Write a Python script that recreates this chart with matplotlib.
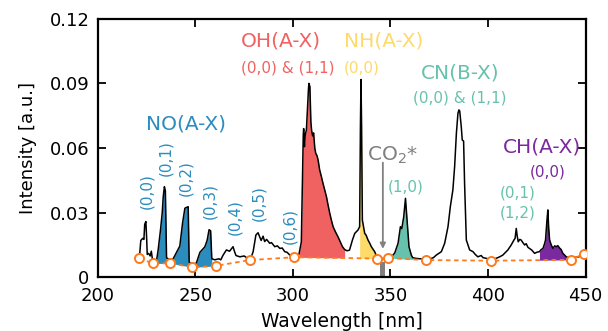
import numpy as np
import matplotlib
matplotlib.use("Agg")
import matplotlib.pyplot as plt

plt.rcParams['font.family'] = ['DejaVu Sans']
plt.rcParams['mathtext.default'] = 'regular'

# emission spectrum (wavelength in nm, intensity in a.u.)
wavelength = [221.3, 222.0, 223.0, 223.6, 224.0, 224.6, 225.0, 225.3, 226.0, 226.8,
              227.4, 228.0, 229.0, 230.1, 230.9, 232.1, 233.0, 233.5, 234.1, 234.6,
              235.2, 236.0, 237.5, 238.6, 240.3, 242.0, 243.4, 244.6, 246.3, 246.8,
              248.0, 249.5, 250.5, 252.3, 254.8, 256.0, 257.0, 257.8, 258.4, 260.0,
              262.0, 263.0, 264.2, 265.9, 267.5, 269.3, 270.0, 270.8, 272.8, 275.0,
              277.0, 278.5, 279.6, 281.0, 282.1, 283.0, 283.7, 284.7, 285.5, 286.5,
              288.1, 289.0, 290.7, 292.0, 293.3, 294.5, 295.8, 297.0, 298.4, 300.1,
              302.0, 303.1, 304.3, 304.8, 305.3, 305.5, 305.9, 306.3, 306.9, 307.5,
              308.0, 308.2, 308.7, 309.2, 309.6, 310.1, 310.6, 311.2, 311.7, 312.3,
              312.9, 313.7, 314.5, 315.4, 316.3, 317.2, 318.0, 318.9, 319.7, 320.6,
              321.8, 323.1, 324.2, 325.4, 326.5, 327.7, 329.0, 330.5, 331.7, 333.4,
              334.2, 334.6, 334.9, 335.2, 335.6, 336.8, 337.5, 338.5, 339.5, 340.2,
              341.9, 343.0, 344.5, 346.0, 347.5, 349.0, 350.5, 352.2, 353.9, 355.1,
              355.8, 356.8, 357.7, 358.4, 359.5, 360.7, 361.4, 363.0, 365.0, 368.0,
              370.1, 372.0, 373.5, 376.1, 377.8, 379.5, 380.7, 382.0, 382.9, 383.8,
              384.6, 385.1, 385.5, 386.3, 386.8, 387.5, 388.0, 388.9, 390.6, 392.3,
              393.5, 394.8, 396.5, 397.5, 399.1, 401.0, 402.5, 404.2, 406.0, 407.6,
              409.0, 410.2, 411.9, 413.3, 413.9, 414.5, 415.0, 415.5, 416.3, 417.0,
              417.9, 418.8, 419.6, 420.5, 421.3, 422.5, 423.9, 425.0, 426.4, 427.3,
              428.2, 429.0, 429.5, 430.2, 430.7, 431.1, 431.6, 432.4, 433.3, 434.2,
              435.0, 435.8, 436.7, 437.5, 438.4, 439.3, 440.1, 441.5, 443.5, 445.0,
              446.5, 448.0, 449.1]
intensity = [0.0090, 0.0170, 0.0180, 0.0175, 0.0245, 0.0258, 0.0180, 0.0105, 0.0110, 0.0098,
             0.0120, 0.0080, 0.0075, 0.0078, 0.0126, 0.0219, 0.0300, 0.0373, 0.0420, 0.0400,
             0.0090, 0.0085, 0.0080, 0.0085, 0.0115, 0.0144, 0.0250, 0.0320, 0.0327, 0.0070,
             0.0060, 0.0062, 0.0065, 0.0115, 0.0140, 0.0170, 0.0220, 0.0215, 0.0085, 0.0080,
             0.0085, 0.0080, 0.0102, 0.0126, 0.0120, 0.0141, 0.0120, 0.0100, 0.0094, 0.0098,
             0.0085, 0.0090, 0.0118, 0.0195, 0.0206, 0.0185, 0.0170, 0.0190, 0.0165, 0.0175,
             0.0157, 0.0160, 0.0141, 0.0145, 0.0133, 0.0135, 0.0118, 0.0115, 0.0102, 0.0096,
             0.0100, 0.0106, 0.0163, 0.0404, 0.0660, 0.0690, 0.0606, 0.0660, 0.0684, 0.0790,
             0.0880, 0.0900, 0.0885, 0.0720, 0.0680, 0.0656, 0.0670, 0.0600, 0.0575, 0.0565,
             0.0544, 0.0498, 0.0470, 0.0436, 0.0405, 0.0373, 0.0335, 0.0296, 0.0265, 0.0234,
             0.0210, 0.0187, 0.0165, 0.0141, 0.0128, 0.0122, 0.0125, 0.0172, 0.0203, 0.0219,
             0.0234, 0.0700, 0.0918, 0.0700, 0.0265, 0.0203, 0.0195, 0.0172, 0.0155, 0.0141,
             0.0118, 0.0095, 0.0088, 0.0085, 0.0088, 0.0090, 0.0094, 0.0112, 0.0157, 0.0234,
             0.0225, 0.0280, 0.0366, 0.0280, 0.0141, 0.0102, 0.0090, 0.0087, 0.0085, 0.0083,
             0.0084, 0.0090, 0.0102, 0.0118, 0.0157, 0.0234, 0.0327, 0.0405, 0.0513, 0.0668,
             0.0761, 0.0777, 0.0772, 0.0699, 0.0637, 0.0632, 0.0436, 0.0172, 0.0126, 0.0118,
             0.0105, 0.0094, 0.0100, 0.0090, 0.0087, 0.0082, 0.0084, 0.0087, 0.0094, 0.0102,
             0.0115, 0.0126, 0.0149, 0.0172, 0.0180, 0.0226, 0.0190, 0.0164, 0.0175, 0.0172,
             0.0160, 0.0149, 0.0155, 0.0138, 0.0133, 0.0125, 0.0110, 0.0115, 0.0118, 0.0128,
             0.0133, 0.0155, 0.0172, 0.0260, 0.0312, 0.0230, 0.0172, 0.0150, 0.0133, 0.0145,
             0.0141, 0.0146, 0.0135, 0.0128, 0.0110, 0.0102, 0.0094, 0.0090, 0.0087, 0.0092,
             0.0094, 0.0100, 0.0108]

# baseline anchor points (orange circles)
base_wl = [221.2, 228.3, 237.2, 248.5, 260.5, 277.9, 300.8, 343.0, 348.7, 368.0, 401.5, 442.5, 449.1]
base_I = [0.0087, 0.0063, 0.0064, 0.0045, 0.0052, 0.0079, 0.0092, 0.0086, 0.0088, 0.0079, 0.0076, 0.0080, 0.0108]

# shaded bands: (start nm, end nm, colour)
NO_blue = '#2B8CBE'
OH_red = '#F06262'
NH_yellow = '#FDDA6A'
CN_teal = '#66C2AC'
CH_purple = '#7A2A9E'
bands = [(230.1, 235.2, NO_blue), (238.6, 246.8, NO_blue), (250.5, 258.4, NO_blue),
         (303.1, 326.5, OH_red), (333.9, 341.9, NH_yellow),
         (349.6, 361.4, CN_teal), (426.4, 440.4, CH_purple)]

# CO2* marker bar
co2_wl = 346.0
co2_height = 0.0072

wl = np.array(wavelength)
inten = np.array(intensity)
base_on_wl = np.interp(wl, base_wl, base_I)

fig = plt.figure(figsize=(6.08, 3.31), dpi=100)
ax = fig.add_axes([0.161, 0.163, 0.802, 0.780])

for lo, hi, col in bands:
    mask = (wl >= lo) & (wl <= hi)
    ax.fill_between(wl[mask], base_on_wl[mask], inten[mask], color=col, lw=0, zorder=1)

ax.bar([co2_wl], [co2_height], width=2.8, color='#808080', zorder=1)
ax.plot(wl, inten, color='black', lw=1.1, zorder=3)
ax.plot(base_wl, base_I, color='#FF7A1A', ls=(0, (2.5, 2)), lw=1.3, zorder=4,
        marker='o', ms=6.5, mfc='white', mec='#FF7A1A', mew=1.4)

ax.annotate('', xy=(346.1, 0.0118), xytext=(346.1, 0.0545),
            arrowprops=dict(arrowstyle='-|>', color='#808080', lw=1.3, mutation_scale=8))
ax.text(337.8, 0.0567, 'CO$_2$*', color='#808080', fontsize=14.5, va='center', ha='left')

# labels
big = 14.5
small = 11
ax.text(245.1, 0.0713, 'NO(A-X)', color=NO_blue, fontsize=big, ha='center', va='center')
no_labels = [(225.1, 0.040, '(0,0)'), (234.7, 0.0553, '(0,1)'), (245.3, 0.046, '(0,2)'),
             (257.4, 0.0353, '(0,3)'), (270.2, 0.0279, '(0,4)'), (282.6, 0.0344, '(0,5)'),
             (298.4, 0.0237, '(0,6)')]
for x, y, s in no_labels:
    ax.text(x, y, s, color=NO_blue, fontsize=small, rotation=90, ha='center', va='center')

ax.text(294.1, 0.1096, 'OH(A-X)', color=OH_red, fontsize=big, ha='center', va='center')
ax.text(297.3, 0.0972, '(0,0) & (1,1)', color=OH_red, fontsize=small, ha='center', va='center')
ax.text(346.5, 0.1096, 'NH(A-X)', color=NH_yellow, fontsize=big, ha='center', va='center')
ax.text(335.4, 0.0972, '(0,0)', color=NH_yellow, fontsize=small, ha='center', va='center')
ax.text(385.5, 0.0949, 'CN(B-X)', color=CN_teal, fontsize=big, ha='center', va='center')
ax.text(385.5, 0.0832, '(0,0) & (1,1)', color=CN_teal, fontsize=small, ha='center', va='center')
ax.text(357.8, 0.042, '(1,0)', color=CN_teal, fontsize=small, ha='center', va='center')
ax.text(415.3, 0.0389, '(0,1)', color=CN_teal, fontsize=small, ha='center', va='center')
ax.text(415.3, 0.0296, '(1,2)', color=CN_teal, fontsize=small, ha='center', va='center')
ax.text(427.8, 0.0606, 'CH(A-X)', color=CH_purple, fontsize=big, ha='center', va='center')
ax.text(430.7, 0.049, '(0,0)', color=CH_purple, fontsize=small, ha='center', va='center')

ax.set_xlim(200, 450)
ax.set_ylim(0, 0.12)
ax.set_xticks([200, 250, 300, 350, 400, 450])
ax.set_yticks([0, 0.03, 0.06, 0.09, 0.12])
ax.set_yticklabels(['0', '0.03', '0.06', '0.09', '0.12'])
ax.tick_params(direction='in', top=True, right=True, length=6, width=1.3, labelsize=13)
ax.tick_params(axis='x', pad=7)
ax.tick_params(axis='y', pad=6)
for sp in ax.spines.values():
    sp.set_linewidth(1.6)
ax.set_xlabel('Wavelength [nm]', fontsize=13.5, labelpad=5)
ax.set_ylabel('Intensity [a.u.]', fontsize=13, labelpad=9)

fig.savefig('out.png', dpi=100)
